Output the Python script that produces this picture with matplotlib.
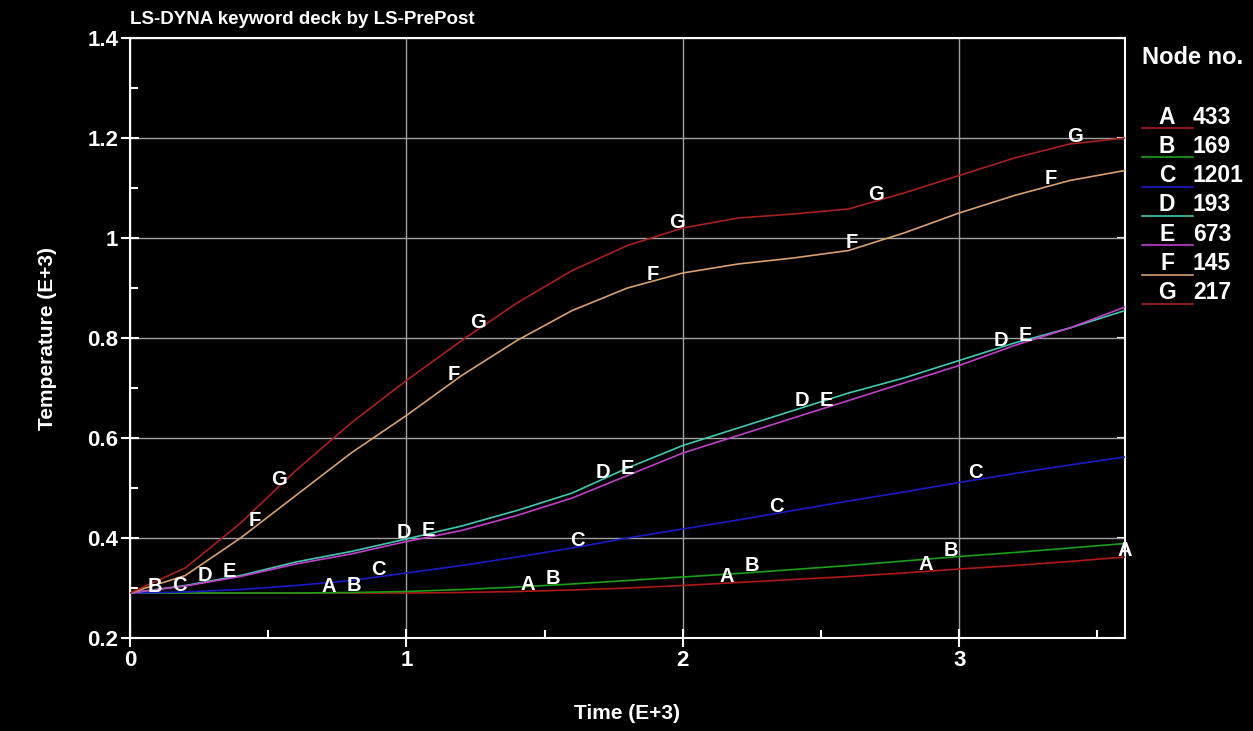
import numpy as np
import matplotlib.pyplot as plt
from matplotlib.lines import Line2D
from matplotlib.ticker import MultipleLocator

plt.rcParams['font.family'] = ['Liberation Sans', 'DejaVu Sans']

# Time (E+3)
time = [0.0, 0.2, 0.4, 0.6, 0.8, 1.0, 1.2, 1.4, 1.6, 1.8,
        2.0, 2.2, 2.4, 2.6, 2.8, 3.0, 3.2, 3.4, 3.6]

# Temperature (E+3) per node
temp_a = [0.29, 0.29, 0.29, 0.29, 0.29, 0.29, 0.291, 0.293, 0.296, 0.30,
          0.305, 0.311, 0.317, 0.323, 0.330, 0.338, 0.345, 0.353, 0.362]
temp_b = [0.29, 0.29, 0.29, 0.29, 0.291, 0.293, 0.297, 0.302, 0.308, 0.315,
          0.322, 0.329, 0.337, 0.345, 0.354, 0.363, 0.371, 0.380, 0.389]
temp_c = [0.29, 0.292, 0.297, 0.305, 0.315, 0.330, 0.345, 0.362, 0.380, 0.400,
          0.418, 0.436, 0.455, 0.474, 0.492, 0.511, 0.529, 0.546, 0.562]
temp_d = [0.29, 0.305, 0.325, 0.352, 0.373, 0.398, 0.424, 0.455, 0.49, 0.54,
          0.585, 0.62, 0.655, 0.69, 0.72, 0.755, 0.79, 0.82, 0.855]
temp_e = [0.29, 0.304, 0.323, 0.348, 0.368, 0.393, 0.415, 0.445, 0.48, 0.525,
          0.57, 0.605, 0.64, 0.675, 0.71, 0.745, 0.785, 0.82, 0.862]
temp_f = [0.29, 0.325, 0.40, 0.485, 0.57, 0.645, 0.725, 0.795, 0.855, 0.90,
          0.93, 0.948, 0.96, 0.975, 1.01, 1.05, 1.085, 1.115, 1.135]
temp_g = [0.29, 0.34, 0.43, 0.535, 0.63, 0.715, 0.795, 0.87, 0.935, 0.985,
          1.02, 1.04, 1.048, 1.058, 1.09, 1.125, 1.16, 1.188, 1.20]

letters = ['A', 'B', 'C', 'D', 'E', 'F', 'G']
nodes = ['433', '169', '1201', '193', '673', '145', '217']
colors = ['#b01818', '#18a018', '#1a1ac8', '#40c8b0', '#c040c8', '#d8a070', '#a82020']
series = [temp_a, temp_b, temp_c, temp_d, temp_e, temp_f, temp_g]

fig = plt.figure(figsize=(12.53, 7.31), dpi=100, facecolor='black')
ax = fig.add_axes([130 / 1253, 93 / 731, 995 / 1253, 600 / 731])
ax.set_facecolor('black')

for i, (ys, col) in enumerate(zip(series, colors)):
    ax.plot(time, ys, color=col, lw=1.2, zorder=3)
    # curve markers: letters spaced along the time axis
    for k in range(6):
        t = 0.09 * i + 0.72 * k
        if t < 0.05 or t > 3.61:
            continue
        ax.annotate(letters[i], (t, np.interp(t, time, ys)), xytext=(0, 5),
                    textcoords='offset points', ha='center', va='center',
                    color='white', fontsize=14.5, fontweight='bold', zorder=4)

ax.set_xlim(0, 3.6)
ax.set_ylim(0.2, 1.4)
ax.xaxis.set_major_locator(MultipleLocator(1))
ax.xaxis.set_minor_locator(MultipleLocator(0.5))
ax.yaxis.set_major_locator(MultipleLocator(0.2))
ax.yaxis.set_minor_locator(MultipleLocator(0.1))
ax.xaxis.set_major_formatter(lambda v, p: f'{v:g}')
ax.yaxis.set_major_formatter(lambda v, p: f'{v:g}')

ax.grid(True, which='major', color='#a0a0a0', lw=1)
for s in ax.spines.values():
    s.set_color('white')
    s.set_linewidth(1.5)
ax.tick_params(which='major', direction='inout', length=13, width=1.5,
               colors='white', labelsize=16, pad=2)
ax.tick_params(which='minor', direction='in', length=6, width=1.5, colors='white')
for lab in ax.get_xticklabels() + ax.get_yticklabels():
    lab.set_fontweight('bold')

right = ax.secondary_yaxis('right')
right.yaxis.set_major_locator(MultipleLocator(0.2))
right.tick_params(direction='in', length=6, width=1.5, colors='white', labelright=False)
right.spines['right'].set_visible(False)

ax.set_xlabel('Time (E+3)', color='white', fontsize=15, fontweight='bold', labelpad=24)
ax.set_ylabel('Temperature (E+3)', color='white', fontsize=15, fontweight='bold', labelpad=22)
fig.text(130 / 1253, 1 - 20 / 731, 'LS-DYNA keyword deck by LS-PrePost', color='white',
         fontsize=13.5, fontweight='bold', ha='left', va='center')

# legend
fig.text(1142 / 1253, 1 - 58 / 731, 'Node no.', color='white', fontsize=17,
         fontweight='bold', ha='left', va='center')
for i in range(7):
    yc = 117 + 29.3 * i
    fig.text(1167 / 1253, 1 - yc / 731, letters[i], color='white', fontsize=16.5,
             fontweight='bold', ha='center', va='center')
    fig.text(1193 / 1253, 1 - yc / 731, nodes[i], color='white', fontsize=16.5,
             fontweight='bold', ha='left', va='center')
    fig.add_artist(Line2D([1142 / 1253, 1193 / 1253], [1 - (yc + 11) / 731] * 2,
                          color=colors[i], lw=1.2))

fig.savefig('out.png', dpi=100, facecolor='black')
